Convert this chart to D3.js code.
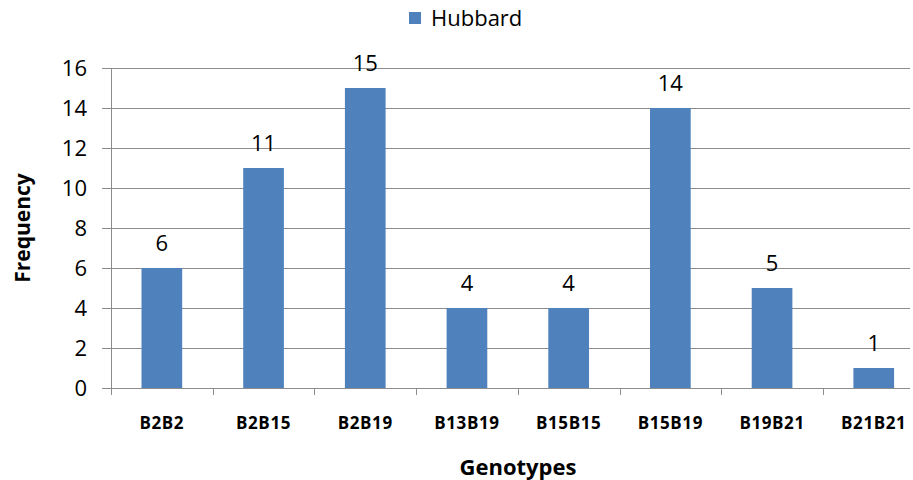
<!DOCTYPE html>
<html>
<head>
<meta charset="utf-8">
<script src="https://cdn.jsdelivr.net/npm/d3@7"></script>
<style>
  body { margin: 0; background: #fff; }
  svg { display: block; }
  text { font-family: "Open Sans", "Noto Sans", sans-serif; fill: #000; }
</style>
</head>
<body>
<svg id="chart" width="913" height="480"></svg>
<script>
// Genotype frequencies for the Hubbard line
const categories = ["B2B2", "B2B15", "B2B19", "B13B19", "B15B15", "B15B19", "B19B21", "B21B21"];
const frequency = [6, 11, 15, 4, 4, 14, 5, 1];
const yTicks = [0, 2, 4, 6, 8, 10, 12, 14, 16];
const seriesName = "Hubbard";

const svg = d3.select("#chart");
const plotLeft = 111, plotTop = 68, plotBottom = 388;
const bandW = 101.7;
const plotRight = plotLeft + bandW * categories.length;
const gridRight = 910;
const barColor = "#4F81BD";
const gridColor = "#8c8c8c";

const x = d3.scaleBand().domain(categories).range([plotLeft, plotRight]).paddingInner(0.6).paddingOuter(0.3);
const y = d3.scaleLinear().domain([0, 16]).range([plotBottom, plotTop]);

// horizontal gridlines with outer tick marks
svg.append("g").selectAll("line").data(yTicks).join("line")
  .attr("x1", plotLeft - 9).attr("x2", gridRight)
  .attr("y1", d => y(d) + 0.5).attr("y2", d => y(d) + 0.5)
  .attr("stroke", gridColor).attr("stroke-width", 1);

// y tick labels
svg.append("g").selectAll("text").data(yTicks).join("text")
  .attr("x", 87).attr("y", d => y(d))
  .attr("dy", "0.36em")
  .attr("text-anchor", "end")
  .style("font-size", "22px")
  .text(d => d);

// vertical axis line
svg.append("line")
  .attr("x1", plotLeft + 0.5).attr("x2", plotLeft + 0.5)
  .attr("y1", plotTop).attr("y2", plotBottom + 7)
  .attr("stroke", gridColor);

// category boundary ticks
const boundaries = d3.range(categories.length + 1).map(i => plotLeft + i * bandW);
svg.append("g").selectAll("line").data(boundaries).join("line")
  .attr("x1", d => Math.round(d) + 0.5).attr("x2", d => Math.round(d) + 0.5)
  .attr("y1", plotBottom).attr("y2", plotBottom + 7)
  .attr("stroke", gridColor);

// bars
svg.append("g").selectAll("rect").data(frequency).join("rect")
  .attr("x", (d, i) => x(categories[i]))
  .attr("width", x.bandwidth())
  .attr("y", d => y(d))
  .attr("height", d => y(0) - y(d))
  .attr("fill", barColor);

// value labels
svg.append("g").selectAll("text").data(frequency).join("text")
  .attr("x", (d, i) => x(categories[i]) + x.bandwidth() / 2)
  .attr("y", d => y(d) - 17)
  .attr("text-anchor", "middle")
  .style("font-size", "22px")
  .text(d => d);

// category labels
svg.append("g").selectAll("text").data(categories).join("text")
  .attr("x", d => x(d) + x.bandwidth() / 2)
  .attr("y", 429)
  .attr("text-anchor", "middle")
  .style("font-size", "17px")
  .style("font-weight", "bold")
  .style("letter-spacing", "0.6px")
  .text(d => d);

// axis titles
svg.append("text")
  .attr("x", 518).attr("y", 475)
  .attr("text-anchor", "middle")
  .style("font-size", "22px").style("font-weight", "bold")
  .text("Genotypes");

svg.append("text")
  .attr("transform", "translate(30,228) rotate(-90)")
  .attr("text-anchor", "middle")
  .style("font-size", "21px").style("font-weight", "bold")
  .text("Frequency");

// legend
const lg = svg.append("g");
lg.append("rect").attr("x", 409).attr("y", 12).attr("width", 12).attr("height", 12).attr("fill", barColor);
lg.append("text").attr("x", 431).attr("y", 18).attr("dy", "0.36em")
  .style("font-size", "22px").text(seriesName);
</script>
</body>
</html>
